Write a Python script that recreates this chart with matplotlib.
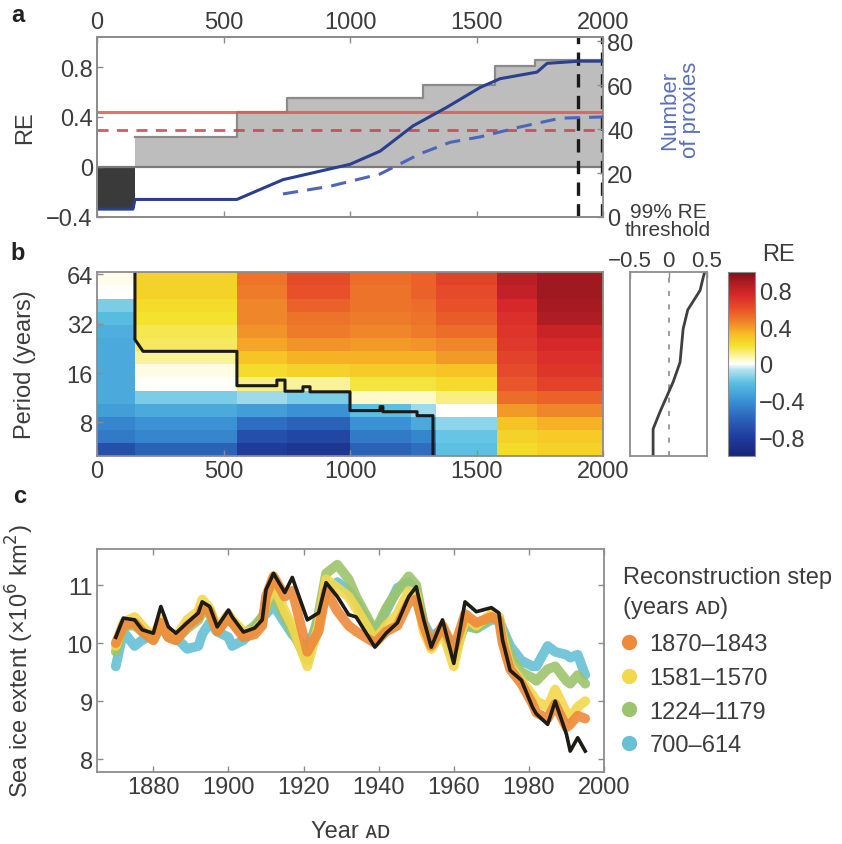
import numpy as np
import matplotlib
matplotlib.use("Agg")
import matplotlib.pyplot as plt
from matplotlib.colors import LinearSegmentedColormap, Normalize
from matplotlib.lines import Line2D
from matplotlib.ticker import FixedLocator, FixedFormatter

plt.rcParams['font.family'] = ['Liberation Sans', 'DejaVu Sans']
plt.rcParams['font.size'] = 17
TXT = '#3c3c3c'
SPINE = '#8c8c8c'

# ---------------- panel a: skill of each reconstruction step ----------------
step_edges = [0, 150, 553, 750, 1290, 1573, 1731, 2000]
step_re = [-0.33, 0.24, 0.44, 0.55, 0.66, 0.81, 0.86]
re_thr_99 = 0.44
re_thr_95 = 0.30
proxy_years = [0, 142, 150, 553, 735, 1000, 1119, 1249, 1383, 1514, 1593, 1739, 1779, 1909, 2000]
proxy_count = [3.6, 3.6, 8, 8, 17, 24, 30, 41.5, 50, 59, 63, 66, 70, 71, 71]
proxy2_years = [735, 921, 1119, 1277, 1395, 1514, 1672, 1830, 2000]
proxy2_count = [10.5, 14, 19.6, 28.8, 34, 36.5, 41, 45, 45.6]
calib_years = [1900, 1995]

# ---------------- panel b: RE by period and reconstruction step ----------------
col_edges = [0, 150, 553, 750, 1000, 1240, 1340, 1580, 1740, 2000]
period_edges = [5, 6.0, 7.2, 8.7, 10.4, 12.5, 15.1, 18.1, 21.8, 26.2, 31.5, 37.8, 45.5, 54.7, 66]
re_cols = [  # each column listed from shortest to longest period
    [-0.70, -0.50, -0.45, -0.35, -0.30, -0.30, -0.30, -0.30, -0.30, -0.28, -0.22, -0.15, 0.00, 0.02],
    [-0.60, -0.45, -0.40, -0.30, -0.15, 0.00, 0.03, 0.10, 0.15, 0.17, 0.20, 0.22, 0.25, 0.25],
    [-0.80, -0.70, -0.55, -0.35, -0.10, 0.12, 0.22, 0.30, 0.38, 0.42, 0.45, 0.45, 0.48, 0.50],
    [-0.85, -0.75, -0.60, -0.40, -0.15, 0.10, 0.25, 0.35, 0.42, 0.48, 0.50, 0.55, 0.60, 0.62],
    [-0.60, -0.50, -0.40, -0.20, 0.05, 0.18, 0.28, 0.35, 0.40, 0.45, 0.48, 0.50, 0.50, 0.52],
    [-0.55, -0.45, -0.30, -0.10, 0.05, 0.18, 0.28, 0.35, 0.42, 0.48, 0.50, 0.52, 0.55, 0.55],
    [-0.20, -0.18, -0.12, 0.00, 0.12, 0.22, 0.30, 0.40, 0.45, 0.52, 0.57, 0.60, 0.62, 0.65],
    [0.22, 0.25, 0.30, 0.40, 0.52, 0.58, 0.62, 0.65, 0.68, 0.70, 0.72, 0.75, 0.82, 0.85],
    [0.25, 0.28, 0.35, 0.45, 0.55, 0.65, 0.70, 0.72, 0.75, 0.80, 0.88, 0.90, 0.92, 0.92],
]
sig_years = [150, 150, 182, 553, 553, 711, 711, 743, 743, 814, 814, 842, 842, 1000, 1000,
             1119, 1119, 1130, 1130, 1170, 1170, 1265, 1265, 1328, 1328]
sig_period = [66, 25.6, 21.7, 21.7, 13.4, 13.4, 14.5, 14.5, 12.4, 12.4, 13.2, 13.2, 12.3, 12.3, 9.45,
              9.45, 10.0, 10.0, 9.3, 9.3, 9.3, 9.3, 8.8, 8.8, 5.0]
thr_period = [5.0, 7.3, 9.3, 14.1, 18.6, 29.7, 38.8, 51, 61, 66]
thr_value = [-0.20, -0.20, -0.11, 0.06, 0.15, 0.19, 0.25, 0.41, 0.45, 0.47]

# ---------------- panel c: sea ice extent ----------------
years = [1870, 1872, 1875, 1877, 1880, 1882, 1884, 1886, 1889, 1892, 1893, 1895, 1897, 1900,
         1901, 1904, 1907, 1909, 1910, 1912, 1915, 1917, 1921, 1924, 1926, 1929, 1932, 1934,
         1939, 1942, 1945, 1948, 1950, 1952, 1954, 1957, 1960, 1963, 1966, 1970, 1972, 1973,
         1975, 1978, 1981, 1982, 1985, 1987, 1990, 1991, 1993, 1995]
observed = [10.10, 10.43, 10.40, 10.23, 10.17, 10.63, 10.28, 10.17, 10.35, 10.52, 10.71, 10.63,
            10.28, 10.57, 10.45, 10.19, 10.26, 10.40, 10.92, 11.20, 10.87, 11.13, 10.40, 10.52,
            11.04, 10.80, 10.49, 10.45, 9.93, 10.17, 10.35, 10.80, 10.97, 10.40, 9.93, 10.40,
            9.65, 10.71, 10.54, 10.61, 10.52, 10.05, 9.53, 9.36, 8.89, 8.78, 8.60, 9.00, 8.43,
            8.14, 8.37, 8.14]
rec_1870 = [10.00, 10.30, 10.35, 10.20, 10.05, 10.35, 10.10, 10.05, 10.30, 10.45, 10.60, 10.55,
            10.20, 10.45, 10.35, 10.10, 10.15, 10.30, 10.80, 11.15, 10.80, 10.90, 9.85, 10.20,
            10.90, 10.55, 10.30, 10.20, 10.00, 10.20, 10.30, 10.70, 10.75, 10.30, 9.95, 10.30,
            9.90, 10.50, 10.35, 10.45, 10.40, 10.00, 9.55, 9.30, 8.95, 8.80, 8.70, 8.95, 8.55,
            8.60, 8.75, 8.70]
rec_1581 = [9.95, 10.35, 10.45, 10.30, 10.10, 10.40, 10.15, 10.10, 10.40, 10.55, 10.75, 10.60,
            10.25, 10.50, 10.40, 10.20, 10.20, 10.35, 10.70, 11.00, 10.55, 10.30, 9.60, 10.30,
            11.10, 10.95, 10.80, 10.60, 10.05, 10.30, 10.50, 10.90, 10.85, 10.20, 9.90, 10.20,
            9.60, 10.45, 10.30, 10.50, 10.45, 10.10, 9.60, 9.35, 9.10, 9.00, 8.90, 9.20, 8.80,
            8.70, 8.90, 9.00]
rec_1224 = [9.85, 10.30, 10.30, 10.20, 10.05, 10.30, 10.10, 10.05, 10.25, 10.40, 10.55, 10.50,
            10.20, 10.45, 10.35, 10.15, 10.30, 10.45, 10.60, 10.85, 10.45, 10.20, 9.70, 10.50,
            11.20, 11.35, 11.10, 10.80, 10.20, 10.60, 10.90, 11.15, 11.00, 10.30, 10.00, 10.25,
            9.75, 10.35, 10.25, 10.45, 10.45, 10.20, 9.80, 9.50, 9.40, 9.35, 9.55, 9.60, 9.35,
            9.30, 9.45, 9.30]
rec_700 = [9.60, 10.20, 9.95, 10.05, 10.15, 10.30, 10.20, 10.10, 9.90, 9.95, 10.15, 10.35,
           10.20, 10.10, 9.95, 10.05, 10.25, 10.45, 10.50, 10.65, 10.35, 10.15, 9.90, 10.40,
           10.90, 11.05, 10.90, 10.70, 10.15, 10.55, 10.95, 11.05, 10.90, 10.35, 10.10, 10.25,
           9.85, 10.30, 10.25, 10.40, 10.40, 10.25, 9.95, 9.70, 9.60, 9.60, 9.95, 9.85, 9.80,
           9.75, 9.80, 9.45]
step_labels = ['1870\u20131843', '1581\u20131570', '1224\u20131179', '700\u2013614']
step_colors = ['#ee8a3a', '#f3d84c', '#9cc46c', '#67c0d6']

W, H = 842, 845
fig = plt.figure(figsize=(W / 100, H / 100), dpi=100)


def box(x0, y0, x1, y1):
    return [x0 / W, 1 - y1 / H, (x1 - x0) / W, (y1 - y0) / H]


def style(ax):
    for s in ax.spines.values():
        s.set_color(SPINE)
        s.set_linewidth(1.3)
    ax.tick_params(direction='in', length=4, color=SPINE, labelcolor=TXT, width=1, pad=3)


# ---- a ----
ax_a = fig.add_axes(box(97, 38, 603, 218))
style(ax_a)
xs = np.repeat(step_edges, 2)[1:-1]
ys_arr = np.repeat(step_re, 2)
ax_a.fill_between(xs, 0, ys_arr, where=ys_arr >= 0, color='#bdbdbd', linewidth=0)
ax_a.fill_between(xs, 0, ys_arr, where=ys_arr <= 0, color='#3a3a3a', linewidth=0)
ax_a.plot(xs[2:], ys_arr[2:], color='#8a8a8a', lw=1.6)
ax_a.axhline(0, color='#7a7a7a', lw=1.6)
ax_a.axhline(re_thr_99, color='#e2575b', lw=2.2, alpha=0.85)
ax_a.axhline(re_thr_95, color='#cc3d4e', lw=2.0, ls=(0, (4, 3)), alpha=0.85)
for cy in calib_years:
    ax_a.axvline(cy, color='#1a1a1a', lw=2.4, ls=(0, (4, 2.5)))
ax_a.set_xlim(0, 2000)
ax_a.set_ylim(-0.4, 1.04)
ax_a.set_yticks([-0.4, 0, 0.4, 0.8])
ax_a.set_yticklabels(['\u22120.4', '0', '0.4', '0.8'])
ax_a.set_xticks([0, 500, 1000, 1500, 2000])
ax_a.tick_params(top=True, bottom=True, labeltop=True, labelbottom=False)
ax_a.set_ylabel('RE', color=TXT)
ax_a.yaxis.set_label_coords(-0.12, 0.5)

ax_a2 = ax_a.twinx()
style(ax_a2)
ax_a2.plot(proxy_years, proxy_count, color='#2a3f8e', lw=2.2)
ax_a2.plot(proxy2_years, proxy2_count, color='#4d66b8', lw=2.2, ls=(0, (5, 3)))
ax_a2.set_ylim(0, 82)
ax_a2.set_yticks([0, 20, 40, 60, 80])
ax_a2.spines['right'].set_visible(False)
fig.text(680 / W, 1 - 110 / H, 'Number\nof proxies', rotation=90, ha='center', va='center',
         color='#5a70b8', multialignment='center', linespacing=1.0, fontsize=16)

# ---- b ----
cmap = LinearSegmentedColormap.from_list('re', [
    (0.00, '#182676'), (0.10, '#1f3c9c'), (0.20, '#2a62b8'), (0.30, '#3a92d4'),
    (0.40, '#5cc0e2'), (0.47, '#b6e4f0'), (0.50, '#ffffff'), (0.53, '#fdf8c0'),
    (0.60, '#f3e22e'), (0.66, '#f8bf24'), (0.72, '#f08a2a'), (0.80, '#e8502a'),
    (0.88, '#d6262a'), (0.95, '#a81c22'), (1.00, '#7c1018')])
norm = Normalize(-1, 1)

ax_b = fig.add_axes(box(97, 273, 603, 457))
style(ax_b)
re_grid = np.array(re_cols).T
mesh = ax_b.pcolormesh(col_edges, period_edges, re_grid, cmap=cmap, norm=norm, shading='flat')
ax_b.plot(sig_years, sig_period, color='#1a1a1a', lw=2.2)
ax_b.set_yscale('log', base=2)
ax_b.set_xlim(0, 2000)
ax_b.set_ylim(5, 66)
ax_b.yaxis.set_major_locator(FixedLocator([8, 16, 32, 64]))
ax_b.yaxis.set_major_formatter(FixedFormatter(['8', '16', '32', '64']))
ax_b.yaxis.set_minor_locator(FixedLocator([]))
ax_b.set_xticks([0, 500, 1000, 1500, 2000])
ax_b.set_ylabel('Period (years)', color=TXT)
ax_b.yaxis.set_label_coords(-0.12, 0.5)

ax_t = fig.add_axes(box(630, 273, 707, 457))
style(ax_t)
ax_t.axvline(0, color='#8a8a8a', lw=1.2, ls=(0, (3, 5)))
ax_t.plot(thr_value, thr_period, color='#404040', lw=2.0)
ax_t.set_yscale('log', base=2)
ax_t.set_ylim(5, 66)
ax_t.set_xlim(-0.5, 0.5)
ax_t.yaxis.set_major_locator(FixedLocator([]))
ax_t.yaxis.set_minor_locator(FixedLocator([]))
ax_t.tick_params(labelleft=False, top=True, labeltop=True, bottom=False, labelbottom=False,
                 pad=1, labelsize=16)
ax_t.set_xticks([-0.5, 0, 0.5])
ax_t.set_xticklabels(['\u22120.5', '0', '0.5'])
fig.text(668 / W, 1 - 212 / H, '99% RE', ha='center', va='center', color=TXT, fontsize=15)
fig.text(668 / W, 1 - 231 / H, 'threshold', ha='center', va='center', color=TXT, fontsize=15)

cax = fig.add_axes(box(728, 273, 755, 457))
cb = fig.colorbar(mesh, cax=cax)
cb.outline.set_edgecolor(SPINE)
cb.set_ticks([-0.8, -0.4, 0, 0.4, 0.8])
cb.set_ticklabels(['\u22120.8', '\u22120.4', '0', '0.4', '0.8'])
cax.tick_params(length=0, labelcolor=TXT, pad=3)
fig.text(762 / W, 1 - 255 / H, 'RE', ha='left', va='center', color=TXT)

# ---- c ----
ax_c = fig.add_axes(box(97, 550, 604, 773))
style(ax_c)
for series, col in zip([rec_700, rec_1224, rec_1581, rec_1870], step_colors[::-1]):
    ax_c.plot(years, series, color=col, lw=7, alpha=0.9, solid_joinstyle='round',
              solid_capstyle='round')
ax_c.plot(years, observed, color='#1e1a14', lw=2.6)
ax_c.set_xlim(1865, 2000)
ax_c.set_ylim(7.78, 11.62)
ax_c.set_xticks([1880, 1900, 1920, 1940, 1960, 1980, 2000])
ax_c.set_yticks([8, 9, 10, 11])
ax_c.tick_params(top=True, right=True)
ax_c.set_ylabel('Sea ice extent (\u00d710$^6$ km$^2$)', color=TXT)
ax_c.yaxis.set_label_coords(-0.12, 0.5)
ax_c.set_xlabel('Year \u1d00\u1d05', color=TXT, labelpad=16)

handles = [Line2D([], [], ls='none', marker='o', ms=10, color=c) for c in step_colors]
fig.text(623 / W, 1 - 578 / H, 'Reconstruction step', ha='left', va='center', color=TXT)
fig.text(623 / W, 1 - 608 / H, '(years \u1d00\u1d05)', ha='left', va='center', color=TXT)
fig.legend(handles, step_labels, loc='upper left', bbox_to_anchor=(620 / W, 1 - 634 / H),
           frameon=False, handlelength=0.8, handletextpad=0.45, labelspacing=0.5,
           labelcolor=TXT, borderpad=0, borderaxespad=0)

for lab, (x, y) in zip('abc', [(18, 15), (18, 253), (20, 497)]):
    fig.text(x / W, 1 - y / H, lab, fontweight='bold', ha='center', va='center', color='#222222')

fig.savefig('out.png', dpi=100)
